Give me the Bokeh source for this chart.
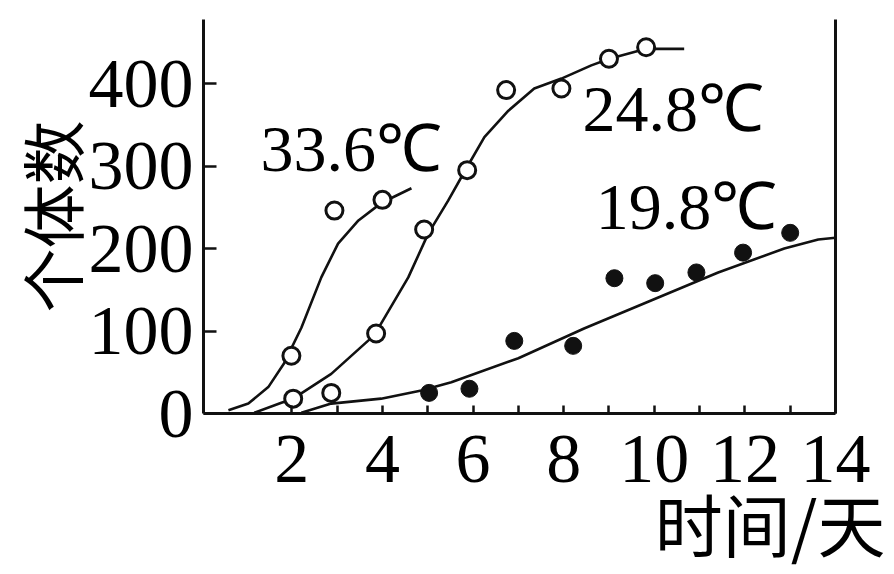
from bokeh.plotting import figure
from bokeh.models import Range1d, FixedTicker, LinearAxis, Label, Title
from bokeh.embed import file_html
from bokeh.resources import INLINE

# ---- data ----
# 33.6 C : observed points and fitted curve
pts_336_x = [1.99, 2.94, 4.00]
pts_336_y = [70, 246, 259]
curve_336_x = [0.60, 1.04, 1.48, 1.83, 2.21, 2.65, 3.02, 3.47, 3.97, 4.30, 4.64]
curve_336_y = [4, 12, 32, 61, 104, 165, 206, 234, 255, 264, 273]

# 24.8 C
pts_248_x = [2.03, 2.87, 3.86, 4.92, 5.87, 6.73, 7.95, 9.00, 9.82]
pts_248_y = [18, 25, 97, 223, 295, 392, 394, 430, 444]
curve_248_x = [1.17, 1.77, 2.03, 2.87, 3.82, 4.57, 5.01, 5.45, 5.85, 6.25, 6.78,
               7.35, 7.95, 8.61, 9.01, 9.82, 10.66]
curve_248_y = [1, 13, 18, 48, 95, 165, 218, 258, 297, 335, 367,
               394, 406, 422, 430, 442, 442]

# 19.8 C
pts_198_x = [5.03, 5.92, 6.91, 8.21, 9.12, 10.02, 10.93, 11.96, 13.00]
pts_198_y = [25, 30, 88, 82, 164, 158, 171, 195, 219]
curve_198_x = [2.21, 2.87, 3.97, 4.86, 5.52, 7.00, 8.45, 9.93, 11.41, 12.87, 13.62, 14.0]
curve_198_y = [1, 12, 18, 28, 38, 67, 103, 137, 171, 200, 211, 213]

labels_text = ["33.6℃", "24.8℃", "19.8℃"]
labels_x = [3.31, 10.42, 10.71]
labels_y = [321, 370, 251]

x_ticks = [2, 4, 6, 8, 10, 12, 14]
x_minor = [3, 5, 7, 9, 11, 13]
y_ticks = [0, 100, 200, 300, 400]

x_title = "时间/天"
y_title = "个体数"

SERIF = "Liberation Serif"
CJK = "Noto Sans CJK SC"
INK = "#111111"

p = figure(width=886, height=570, output_backend="svg", toolbar_location=None,
           x_range=Range1d(0.05, 14.0), y_range=Range1d(0, 477.6),
           min_border_left=203, min_border_right=51, min_border_top=19,
           min_border_bottom=157)
p.grid.visible = False
p.outline_line_color = None
p.background_fill_color = "white"

# x axis
xa = p.xaxis[0]
xa.ticker = FixedTicker(ticks=x_ticks, minor_ticks=x_minor)
xa.axis_line_width = 3
xa.axis_line_color = INK
xa.major_tick_in = 8
xa.major_tick_out = 0
xa.minor_tick_in = 8
xa.minor_tick_out = 0
xa.major_tick_line_width = 2.5
xa.minor_tick_line_width = 2.5
xa.major_tick_line_color = INK
xa.minor_tick_line_color = INK
xa.major_label_text_font = SERIF
xa.major_label_text_font_size = "70px"
xa.major_label_text_color = "black"
xa.major_label_standoff = 22

# y axis
ya = p.yaxis[0]
ya.ticker = FixedTicker(ticks=y_ticks, minor_ticks=[])
ya.axis_line_width = 3
ya.axis_line_color = INK
ya.major_tick_in = 13
ya.major_tick_out = 0
ya.major_tick_line_width = 2.5
ya.major_tick_line_color = INK
ya.minor_tick_in = 0
ya.minor_tick_out = 0
ya.major_label_text_font = SERIF
ya.major_label_text_font_size = "70px"
ya.major_label_text_color = "black"
ya.major_label_standoff = 10
ya.axis_label = y_title
ya.axis_label_text_font = CJK
ya.axis_label_text_font_size = "64px"
ya.axis_label_text_font_style = "normal"
ya.axis_label_text_color = "black"
ya.axis_label_standoff = -10

# right frame line
ra = LinearAxis(ticker=FixedTicker(ticks=[]), axis_line_width=3, axis_line_color=INK,
                major_tick_in=0, major_tick_out=0, minor_tick_in=0, minor_tick_out=0,
                major_label_text_font_size="0px")
p.add_layout(ra, "right")

# x axis title, right aligned below the axis
p.add_layout(Title(text=x_title, align="right", offset=-50, standoff=-28,
                   text_font=CJK, text_font_size="68px", text_font_style="normal",
                   text_color="black"), "below")

# curves
for cx, cy in [(curve_336_x, curve_336_y), (curve_248_x, curve_248_y), (curve_198_x, curve_198_y)]:
    p.line(cx, cy, line_color=INK, line_width=2.6)

# points
p.scatter(pts_336_x, pts_336_y, size=17, marker="circle", fill_color="white",
          line_color=INK, line_width=3)
p.scatter(pts_248_x, pts_248_y, size=17, marker="circle", fill_color="white",
          line_color=INK, line_width=3)
p.scatter(pts_198_x, pts_198_y, size=17, marker="circle", fill_color=INK,
          line_color=INK, line_width=1)

for t, lx, ly in zip(labels_text, labels_x, labels_y):
    p.add_layout(Label(x=lx, y=ly, text=t, text_font=SERIF, text_font_size="66px",
                       text_align="center", text_baseline="middle", text_color="black"))

open("out.html", "w").write(file_html(p, INLINE))
